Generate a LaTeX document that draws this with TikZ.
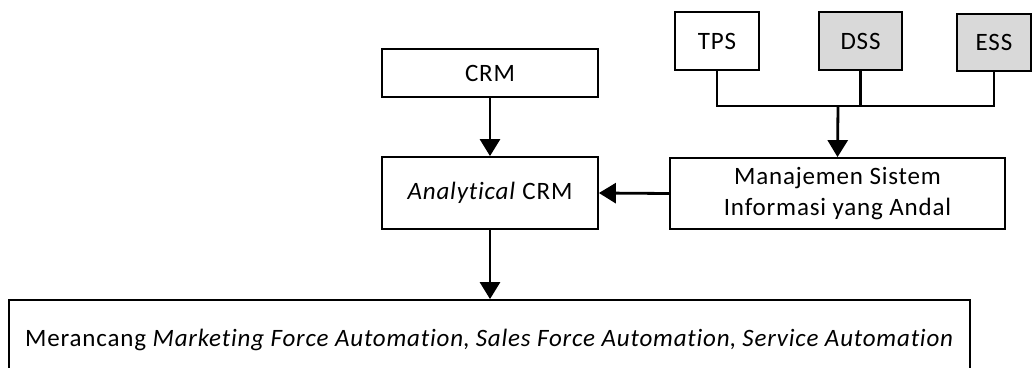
\documentclass[tikz,border=0pt]{standalone}
\usepackage{fontspec}
\setmainfont{Carlito}[Ligatures=NoCommon, LetterSpace=3.3]
\usetikzlibrary{arrows.meta}
\definecolor{boxgray}{HTML}{D9D9D9}
\tikzset{
  box/.style={draw=black, line width=1.8pt, inner sep=0pt, align=center,
    font=\fontsize{25}{31}\selectfont},
  link/.style={line width=2.8pt},
  arrowlink/.style={link, -{Triangle[length=17pt,width=20pt]}},
}
\begin{document}
\begin{tikzpicture}[x=1pt,y=-1pt]
\useasboundingbox (0,0) rectangle (1032,367);
% information systems
\node[box, minimum width=84pt, minimum height=58pt] (tps) at (717,41) {TPS};
\node[box, fill=boxgray, minimum width=83pt, minimum height=58pt] (dss) at (860.5,41) {DSS};
\node[box, fill=boxgray, minimum width=74pt, minimum height=57pt] (ess) at (994,42.5) {ESS};
% CRM chain
\node[box, minimum width=216pt, minimum height=48pt] (crm) at (490,73) {CRM};
\node[box, minimum width=216pt, minimum height=72pt] (acrm) at (490,193) {\textit{Analytical} CRM};
\node[box, minimum width=335pt, minimum height=71pt] (msi) at (837.5,193.5) {Manajemen Sistem\\Informasi yang Andal};
\node[box, minimum width=961pt, minimum height=80pt] (design) at (489.5,340)
  {Merancang \textit{Marketing Force Automation}, \textit{Sales Force Automation}, \textit{Service Automation}};
% connectors
\coordinate (bus) at (838,106);
\draw[link] (tps.south) |- (bus) -| (ess.south);
\draw[link] (dss.south) -- (dss.south |- bus);
\draw[arrowlink] (bus) -- (msi.north);
\draw[arrowlink] (crm.south) -- (acrm.north);
\draw[arrowlink] (msi.west) -- (acrm.east);
\draw[arrowlink] (acrm.south) -- (design.north -| acrm.south);
\end{tikzpicture}
\end{document}
